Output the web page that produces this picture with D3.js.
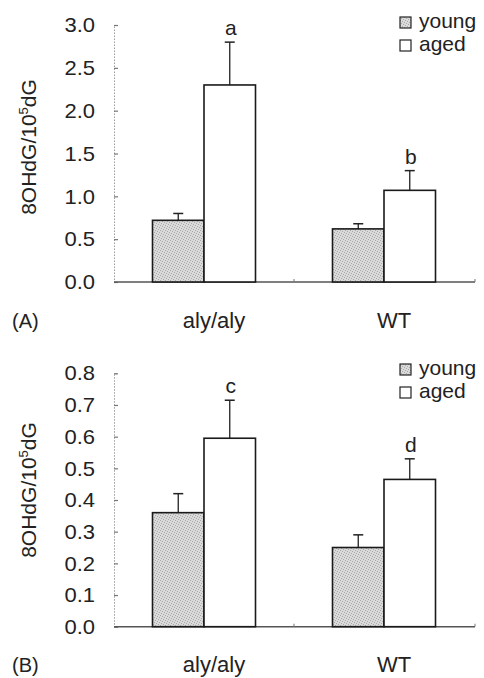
<!DOCTYPE html>
<html><head><meta charset="utf-8">
<script src="https://cdn.jsdelivr.net/npm/d3@7"></script>
<style>
html,body{margin:0;padding:0;background:#fff;}
svg{display:block;font-family:"Liberation Sans",Arial,Helvetica,sans-serif;}
</style></head>
<body>
<svg id="chart" width="484" height="678"></svg>
<script>
const categories = ["aly/aly", "WT"];
const seriesNames = ["young", "aged"];
// Panel A
const aYoung = [0.72, 0.62];
const aYoungErr = [0.08, 0.06];
const aAged = [2.30, 1.07];
const aAgedErr = [0.50, 0.23];
const aLetters = ["a", "b"];
const aTicks = [0, 0.5, 1.0, 1.5, 2.0, 2.5, 3.0];
// Panel B
const bYoung = [0.36, 0.25];
const bYoungErr = [0.06, 0.04];
const bAged = [0.595, 0.465];
const bAgedErr = [0.12, 0.065];
const bLetters = ["c", "d"];
const bTicks = [0, 0.1, 0.2, 0.3, 0.4, 0.5, 0.6, 0.7, 0.8];

const svg = d3.select("#chart");
const defs = svg.append("defs");
const pat = defs.append("pattern").attr("id","stip").attr("patternUnits","userSpaceOnUse")
  .attr("width",5).attr("height",5);
pat.append("rect").attr("width",5).attr("height",5).attr("fill","#dadada");
[[0,0],[2,1],[4,2],[1,3],[3,4]].forEach(([px,py])=>{
  pat.append("rect").attr("x",px).attr("y",py).attr("width",1).attr("height",1).attr("fill","#a8a8a8");
});

function panel(cfg){
  const g = svg.append("g");
  const x0 = d3.scaleBand().domain(categories).range([114, 474]).padding(0);
  const x1 = d3.scaleBand().domain(seriesNames).range([0, 103]).padding(0);
  const y = d3.scaleLinear().domain(cfg.domain).range([cfg.y0, cfg.yTop]);

  // y axis (dotted light line, inward ticks)
  const ax = d3.axisRight(y).tickValues(cfg.ticks).tickSize(4).tickFormat("");
  const axg = g.append("g").attr("transform","translate(114,0)").call(ax);
  axg.select(".domain").attr("stroke","#9a9a9a").attr("stroke-dasharray","1.5,1.5");
  axg.selectAll(".tick line").attr("stroke","#777").attr("stroke-width",1.2);

  // tick labels
  g.selectAll(".tl").data(cfg.ticks).join("text")
    .attr("x",95).attr("y",d=>y(d)).attr("dy","0.36em")
    .attr("text-anchor","end").attr("font-size",20).attr("fill","#222")
    .attr("transform",d=>`translate(95,0) scale(1.1,1) translate(-95,0)`)
    .text(d=>d3.format(".1f")(d));

  // baseline
  g.append("line").attr("x1",114).attr("x2",475).attr("y1",y(0)).attr("y2",y(0))
    .attr("stroke","#555").attr("stroke-width",1.4);
  // small separators
  g.append("line").attr("x1",x0(categories[1])).attr("x2",x0(categories[1]))
    .attr("y1",y(0)-3).attr("y2",y(0)).attr("stroke","#777");
  g.append("line").attr("x1",475).attr("x2",475).attr("y1",y(0)-3).attr("y2",y(0)).attr("stroke","#777");

  const rows = categories.map((c,i)=>[
    {cat:c, s:"young", v:cfg.young[i], e:cfg.youngErr[i]},
    {cat:c, s:"aged", v:cfg.aged[i], e:cfg.agedErr[i], letter:cfg.letters[i]}
  ]).flat();
  const bx = d => x0(d.cat) + x0.bandwidth()/2 - 51.5 + x1(d.s);

  // error bars
  rows.forEach(d=>{
    const cx = bx(d) + x1.bandwidth()/2;
    g.append("line").attr("x1",cx).attr("x2",cx).attr("y1",y(d.v)).attr("y2",y(d.v+d.e))
      .attr("stroke","#222").attr("stroke-width",1.3);
    g.append("line").attr("x1",cx-5).attr("x2",cx+5).attr("y1",y(d.v+d.e)).attr("y2",y(d.v+d.e))
      .attr("stroke","#222").attr("stroke-width",1.5);
    if(d.letter){
      g.append("text").attr("x",cx+1).attr("y",y(d.v+d.e)-7).attr("text-anchor","middle")
        .attr("font-size",21).attr("fill","#222").text(d.letter);
    }
  });

  // bars
  g.selectAll(".bar").data(rows).join("rect")
    .attr("x",d=>bx(d)).attr("width",x1.bandwidth())
    .attr("y",d=>y(d.v)).attr("height",d=>y(0)-y(d.v))
    .attr("fill",d=>d.s==="young"?"url(#stip)":"#fff")
    .attr("stroke","#1a1a1a").attr("stroke-width",1.6);

  // category labels
  g.selectAll(".cl").data(categories).join("text")
    .attr("x",d=>x0(d)+x0.bandwidth()/2+10).attr("y",cfg.labelY)
    .attr("text-anchor","middle").attr("font-size",22).attr("fill","#222").text(d=>d);
  g.append("text").attr("x",12).attr("y",cfg.labelY).attr("font-size",20).attr("fill","#222").text(cfg.panel);

  // y title
  const t = g.append("text").attr("transform",`translate(36,${cfg.titleY}) rotate(-90)`)
    .attr("text-anchor","middle").attr("font-size",21).attr("fill","#222");
  t.append("tspan").text("8OHdG/10");
  t.append("tspan").attr("font-size",13).attr("dy",-8).text("5");
  t.append("tspan").attr("dy",8).text("dG");

  // legend
  seriesNames.forEach((s,i)=>{
    const ly = cfg.legY + i*23;
    g.append("rect").attr("x",400).attr("y",ly).attr("width",11).attr("height",11)
      .attr("fill", s==="young"?"url(#stip)":"#fff").attr("stroke","#222").attr("stroke-width",1.2);
    g.append("text").attr("x",419).attr("y",ly+11).attr("font-size",21).attr("fill","#222").text(s);
  });
}

panel({domain:[0,3], y0:282, yTop:25, ticks:aTicks, young:aYoung, youngErr:aYoungErr,
  aged:aAged, agedErr:aAgedErr, letters:aLetters, labelY:328, panel:"(A)", titleY:147, legY:17});
panel({domain:[0,0.8], y0:626.7, yTop:373.3, ticks:bTicks, young:bYoung, youngErr:bYoungErr,
  aged:bAged, agedErr:bAgedErr, letters:bLetters, labelY:672, panel:"(B)", titleY:490, legY:364});
</script>
</body></html>
